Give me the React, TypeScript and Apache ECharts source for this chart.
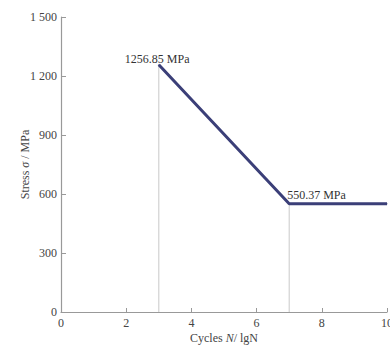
import React, { useEffect, useRef } from "react";
import * as echarts from "echarts";

const curveX = [3, 7, 10];
const curveY = [1256.85, 550.37, 550.37];
const pointLabels = ["1256.85 MPa", "550.37 MPa", ""];
const yTicks = [0, 300, 600, 900, 1200, 1500];
const xTicks = [0, 2, 4, 6, 8, 10];

const FONT = "'Liberation Serif', 'Times New Roman', serif";
const TXT = "#444";

export default function App() {
  const ref = useRef<HTMLDivElement>(null);
  useEffect(() => {
    if (!ref.current) return;
    const chart = echarts.init(ref.current, undefined, { renderer: "svg" });
    const curveData = curveX.map((x, i) => ({
      value: [x, curveY[i]],
      label: {
        show: pointLabels[i] !== "",
        formatter: pointLabels[i],
        position: "top",
        align: "left",
        offset: i === 0 ? [-34, 6] : [-2, 3],
        fontFamily: FONT,
        fontSize: 12,
        color: "#333",
      },
    }));
    const drops = curveX.slice(0, 2).map((x, i) => ({
      type: "line",
      data: [
        [x, 0],
        [x, curveY[i]],
      ],
      symbol: "none",
      lineStyle: { color: "#bbb", width: 0.8 },
      z: 1,
      silent: true,
    }));
    chart.setOption({
      animation: false,
      grid: { left: 61, right: 3, top: 17, bottom: 41, containLabel: false, outerBoundsMode: "none" },
      xAxis: {
        type: "value",
        min: xTicks[0],
        max: xTicks[xTicks.length - 1],
        interval: 2,
        axisLine: { lineStyle: { color: "#999", width: 1.2 } },
        axisTick: { inside: true, length: 4, lineStyle: { color: "#999" } },
        splitLine: { show: false },
        axisLabel: { fontFamily: FONT, fontSize: 12, color: TXT, margin: 5 },
        name: "{r|Cycles }{i|N}{r|/ lg}{r|N}",
        nameLocation: "middle",
        nameGap: 20,
        nameMoveOverlap: false,
        nameTextStyle: {
          rich: {
            r: { fontFamily: FONT, fontSize: 12, color: TXT },
            i: { fontFamily: FONT, fontSize: 12, color: TXT, fontStyle: "italic" },
          },
        },
      },
      yAxis: {
        type: "value",
        min: yTicks[0],
        max: yTicks[yTicks.length - 1],
        interval: 300,
        axisLine: { show: true, lineStyle: { color: "#999", width: 1.2 } },
        axisTick: { show: true, inside: true, length: 5, lineStyle: { color: "#999" } },
        splitLine: { show: false },
        axisLabel: {
          fontFamily: FONT,
          fontSize: 12,
          color: TXT,
          margin: 4,
          formatter: (v: number) => (v >= 1000 ? String(v).replace(/(\d)(\d{3})$/, "$1 $2") : String(v)),
        },
        name: "{r|Stress }{i|σ}{r| / MPa}",
        nameLocation: "middle",
        nameRotate: 90,
        nameGap: 30,
        nameMoveOverlap: false,
        nameTextStyle: {
          rich: {
            r: { fontFamily: FONT, fontSize: 12, color: TXT },
            i: { fontFamily: FONT, fontSize: 12, color: TXT, fontStyle: "italic" },
          },
        },
      },
      series: [
        ...drops,
        {
          type: "line",
          data: curveData,
          symbol: "circle",
          symbolSize: 1,
          showSymbol: true,
          itemStyle: { color: "#3b3f78" },
          lineStyle: { color: "#3b3f78", width: 3 },
          z: 3,
        },
      ],
    });
    return () => chart.dispose();
  }, []);
  return <div ref={ref} style={{ width: 390, height: 353, position: "absolute", left: 0, top: 0, background: "#fff" }} />;
}
